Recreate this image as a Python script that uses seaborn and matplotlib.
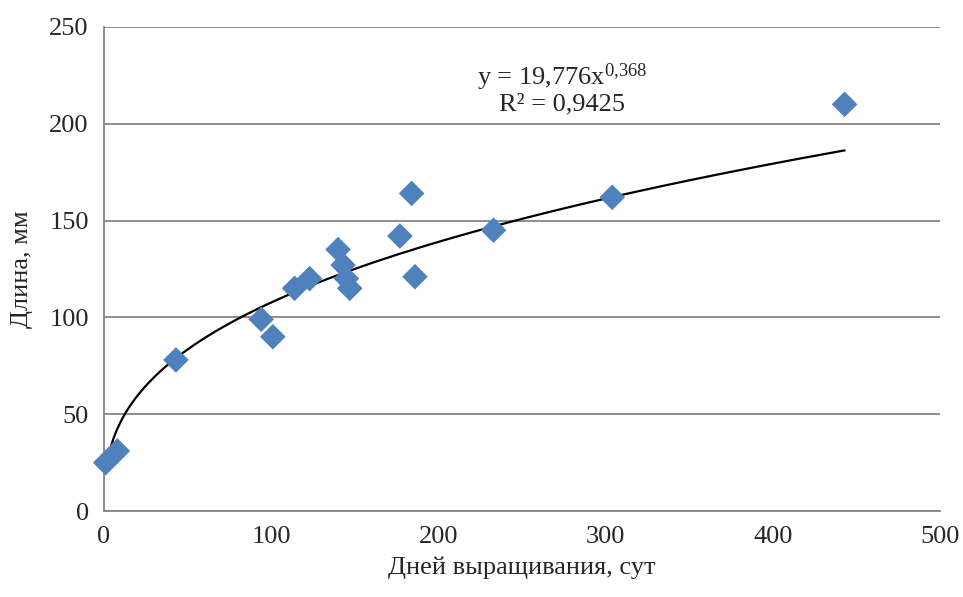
import numpy as np
import pandas as pd
import matplotlib
matplotlib.use("Agg")
import matplotlib.pyplot as plt
import seaborn as sns

# data
days = [1, 8, 43, 94, 101, 114, 123, 140, 143, 145, 147, 177, 184, 186, 233, 304, 443]
length = [25, 31, 78, 99, 90, 115, 120, 135, 127, 120, 115, 142, 164, 121, 145, 162, 210]

# power trend from the chart label
coef_a = 19.776
coef_b = 0.368
trend_x = np.linspace(1, 443, 300)
trend_y = coef_a * trend_x ** coef_b

df = pd.DataFrame({"days": days, "length": length})
trend = pd.DataFrame({"x": trend_x, "y": trend_y})

sns.set_style("white")
plt.rcParams['font.family'] = ['Liberation Serif', 'DejaVu Serif']
plt.rcParams['mathtext.fontset'] = 'custom'
plt.rcParams['mathtext.rm'] = 'Liberation Serif'
plt.rcParams['mathtext.it'] = 'Liberation Serif'

fig = plt.figure(figsize=(9.63, 5.97), dpi=100)
ax = fig.add_axes([0.108, 0.144, 0.868, 0.811])

ax.grid(axis='y', color='#868686', linewidth=1.3)
ax.set_axisbelow(True)

sns.lineplot(data=trend, x="x", y="y", color='black', linewidth=1.6, ax=ax)
sns.scatterplot(data=df, x="days", y="length", marker='D', s=170, color='#4F81BD',
                edgecolor='none', ax=ax, zorder=3, clip_on=False)

ax.set_xlim(0, 500)
ax.set_ylim(0, 250)
ax.set_xticks(range(0, 501, 100))
ax.set_yticks(range(0, 251, 50))
ax.tick_params(labelsize=19, length=5, color='#868686', pad=6)
ax.set_xlabel("Дней выращивания, сут", fontsize=19, labelpad=6)
ax.set_ylabel("Длина, мм", fontsize=19, labelpad=12)

for side in ['top', 'right']:
    ax.spines[side].set_visible(False)
for side in ['left', 'bottom']:
    ax.spines[side].set_color('#868686')
    ax.spines[side].set_linewidth(1.3)

ax.text(274, 224, r"y = 19,776x$^{\mathrm{0{,}368}}$", fontsize=19, ha='center', va='center')
ax.text(274, 210, "R² = 0,9425", fontsize=19, ha='center', va='center')

fig.savefig("out.png", dpi=100)
